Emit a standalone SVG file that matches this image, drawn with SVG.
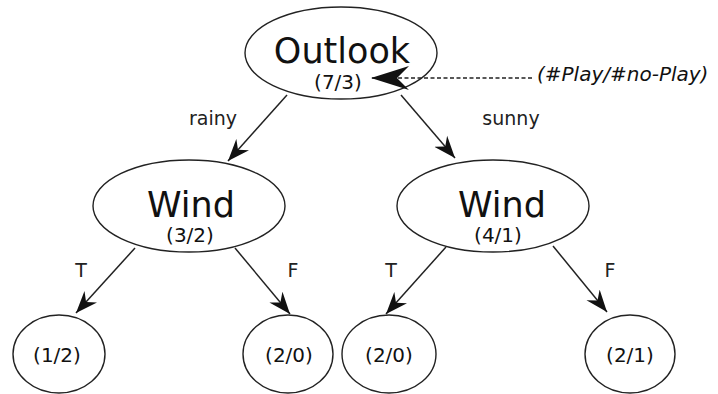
<svg xmlns="http://www.w3.org/2000/svg" width="718" height="394" viewBox="0 0 718 394">
<style>
.node{fill:#fff;stroke:#222;stroke-width:1.4}
.t{font-family:"DejaVu Sans",sans-serif;fill:#111;text-anchor:middle}
.big{font-size:35px}
.sm{font-size:20px}
.lbl{font-family:"DejaVu Sans",sans-serif;font-size:19px;fill:#222;text-anchor:middle}
.edge{stroke:#222;stroke-width:1.5;fill:none}
.dash{stroke:#222;stroke-width:1.5;fill:none;stroke-dasharray:4 2.5}
</style>
<defs>
<marker id="ah" markerUnits="userSpaceOnUse" viewBox="-22 -9 23 18" refX="0" refY="0" markerWidth="23" markerHeight="18" orient="auto">
<path d="M0,0 L-22,-8.5 L-15,0 L-22,8.5 Z" fill="#111"/>
</marker>
<marker id="ahd" markerUnits="userSpaceOnUse" viewBox="-38 -13 39 26" refX="0" refY="0" markerWidth="39" markerHeight="26" orient="auto">
<path d="M0,0 L-38,-12 L-26,0 L-38,12 Z" fill="#111"/>
</marker>
</defs>
<g id="outlook">
<ellipse class="node" cx="341" cy="53" rx="96" ry="46"/>
<text class="t big" x="342" y="63">Outlook</text>
<text class="t sm" x="338" y="89">(7/3)</text>
</g>
<g id="wind-left">
<ellipse class="node" cx="189" cy="206" rx="96" ry="46"/>
<text class="t big" x="191" y="217">Wind</text>
<text class="t sm" x="190" y="242">(3/2)</text>
</g>
<g id="wind-right">
<ellipse class="node" cx="493" cy="206" rx="96" ry="46"/>
<text class="t big" x="502" y="217">Wind</text>
<text class="t sm" x="498" y="242">(4/1)</text>
</g>
<g id="leaf1">
<ellipse class="node" cx="59" cy="354" rx="46" ry="39"/>
<text class="t sm" x="57" y="362">(1/2)</text>
</g>
<g id="leaf2">
<ellipse class="node" cx="288" cy="354" rx="45" ry="39"/>
<text class="t sm" x="289" y="362">(2/0)</text>
</g>
<g id="leaf3">
<ellipse class="node" cx="389" cy="354" rx="47" ry="39"/>
<text class="t sm" x="389" y="362">(2/0)</text>
</g>
<g id="leaf4">
<ellipse class="node" cx="630" cy="354" rx="45" ry="39"/>
<text class="t sm" x="630" y="362">(2/1)</text>
</g>
<g id="connectors">
<line class="edge" x1="287" y1="95" x2="228" y2="161" marker-end="url(#ah)"/>
<line class="edge" x1="401" y1="95" x2="455" y2="158" marker-end="url(#ah)"/>
<line class="edge" x1="135" y1="248" x2="76" y2="313" marker-end="url(#ah)"/>
<line class="edge" x1="235" y1="248" x2="290" y2="314" marker-end="url(#ah)"/>
<line class="edge" x1="446" y1="247" x2="386" y2="314" marker-end="url(#ah)"/>
<line class="edge" x1="553" y1="246" x2="607" y2="312" marker-end="url(#ah)"/>
<line class="dash" x1="532" y1="78" x2="371" y2="78" marker-end="url(#ahd)"/>
<text class="lbl" x="213" y="125">rainy</text>
<text class="lbl" x="511" y="125">sunny</text>
<text class="lbl" x="81" y="277">T</text>
<text class="lbl" x="293" y="277">F</text>
<text class="lbl" x="391" y="277">T</text>
<text class="lbl" x="610" y="277">F</text>
<text x="537" y="81" style="font-family:'DejaVu Sans',sans-serif;font-size:20px;font-style:italic;fill:#111">(#Play/#no-Play)</text>
</g>
</svg>
